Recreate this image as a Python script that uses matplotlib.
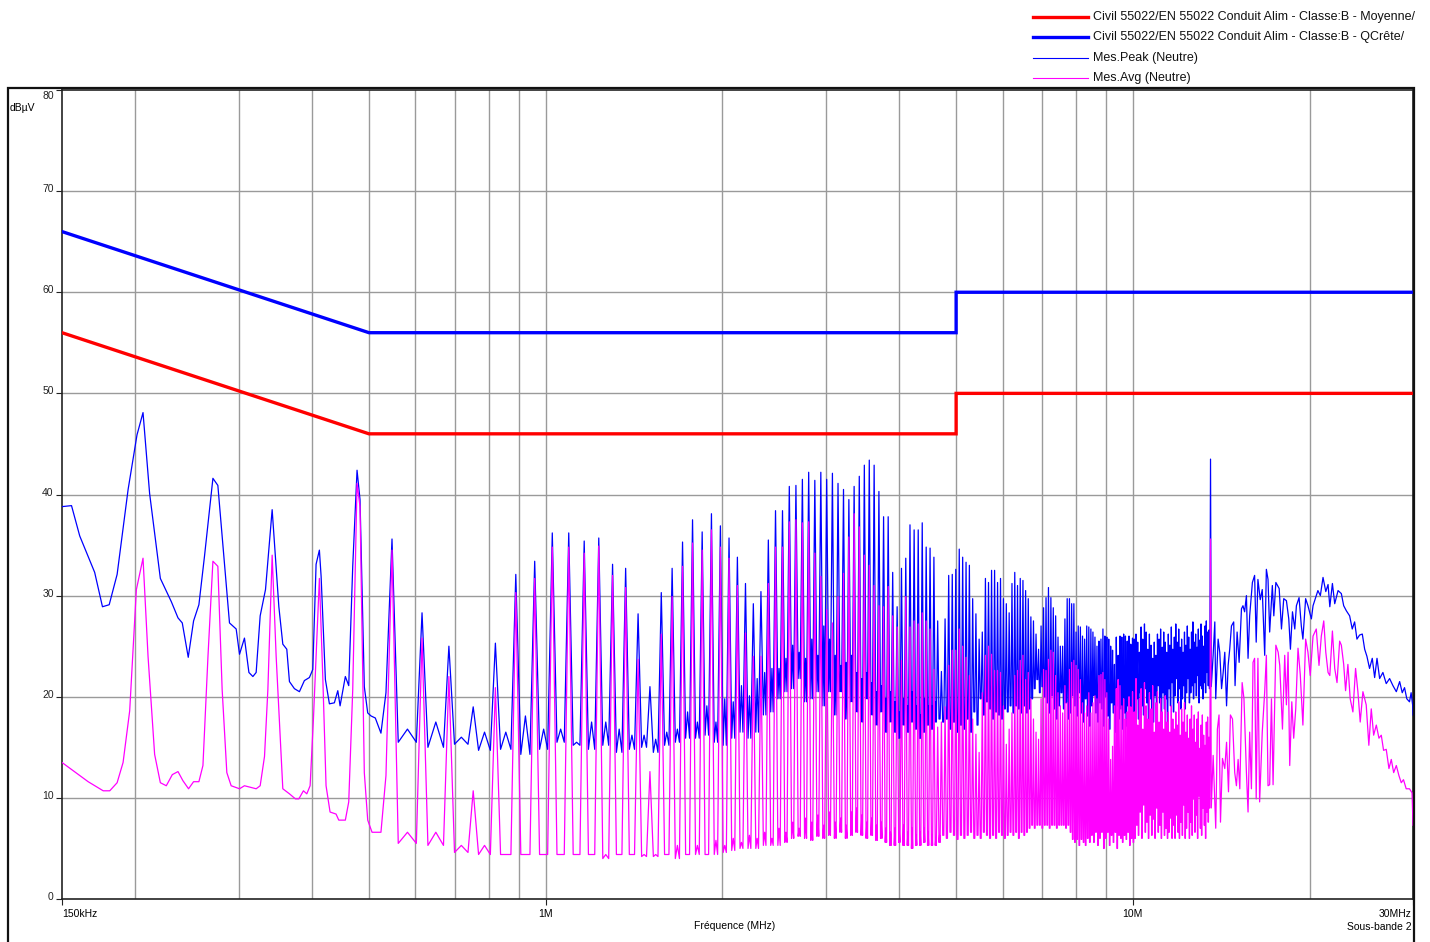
import numpy as np
import matplotlib
matplotlib.use("Agg")
import matplotlib.pyplot as plt
import matplotlib.transforms as mtransforms
from matplotlib.lines import Line2D
from matplotlib.patches import Rectangle

plt.rcParams['font.family'] = ['Liberation Sans', 'DejaVu Sans']

# --- Limit lines (EN 55022 class B, conducted) ---
lim_f = [0.15, 0.5, 5.0, 5.0, 30.0]
lim_avg = [56, 46, 46, 50, 50]
lim_qp = [66, 56, 56, 60, 60]

# --- Measured spectrum, below the first resolved harmonic (MHz, dBuV) ---
f_pk_low = [0.150, 0.1557, 0.1608, 0.1705, 0.1758, 0.1805, 0.1862, 0.1944, 0.2013, 0.2061,
            0.2115, 0.2206, 0.2303, 0.2364, 0.2404, 0.2461, 0.2513, 0.2566, 0.2623, 0.2711,
            0.2764, 0.2893, 0.2970, 0.3009, 0.3068, 0.3122, 0.3171, 0.3212, 0.3263, 0.3332,
            0.3420, 0.3511, 0.3566, 0.3622, 0.3660, 0.3732, 0.3806, 0.3881, 0.3958, 0.4011,
            0.4063, 0.4116, 0.4144, 0.4214, 0.4281, 0.4365, 0.4424, 0.4464, 0.4557, 0.4618,
            0.4691, 0.4771, 0.4827, 0.4909, 0.4975, 0.5040, 0.5125, 0.5240, 0.5344]
pk_low = [38.8, 38.9, 35.9, 32.3, 28.9, 29.1, 32.1, 40.5, 45.9, 48.1,
          40.1, 31.7, 29.4, 27.8, 27.3, 23.9, 27.5, 29.1, 33.9, 41.6,
          40.9, 27.3, 26.7, 24.2, 25.8, 22.4, 22.0, 22.4, 28.0, 30.6,
          38.5, 28.9, 25.2, 24.7, 21.5, 20.8, 20.5, 21.6, 21.9, 22.7,
          33.1, 34.5, 31.9, 21.7, 19.3, 19.4, 20.6, 19.1, 22.0, 21.1,
          32.9, 42.4, 39.5, 21.0, 18.4, 18.1, 17.9, 16.4, 20.4]

f_av_low = [0.150, 0.1662, 0.1763, 0.1809, 0.1862, 0.1906, 0.1956, 0.2008, 0.2061, 0.2102,
            0.2157, 0.2206, 0.2258, 0.2312, 0.2364, 0.2410, 0.2464, 0.2513, 0.2566, 0.2607,
            0.2659, 0.2711, 0.2764, 0.2811, 0.2863, 0.2912, 0.3009, 0.3068, 0.3212, 0.3263,
            0.3319, 0.3363, 0.3420, 0.3474, 0.3566, 0.3660, 0.3747, 0.3797, 0.3866, 0.3918,
            0.3969, 0.4021, 0.4116, 0.4171, 0.4225, 0.4292, 0.4394, 0.4441, 0.4557, 0.4618,
            0.4691, 0.4771, 0.4827, 0.4909, 0.4975, 0.5060, 0.5240, 0.5344]
av_low = [13.5, 11.6, 10.7, 10.7, 11.5, 13.5, 18.6, 30.6, 33.7, 24.0,
          14.3, 11.5, 11.2, 12.3, 12.6, 11.7, 10.9, 11.6, 11.6, 13.2,
          24.0, 33.4, 32.9, 20.7, 12.5, 11.2, 10.9, 11.2, 10.9, 11.2,
          14.1, 20.7, 34.0, 24.0, 10.9, 10.4, 9.9, 9.9, 10.7, 10.4,
          11.2, 17.8, 31.7, 22.0, 11.2, 8.6, 8.4, 7.8, 7.8, 9.6,
          20.7, 41.1, 38.8, 12.5, 7.8, 6.6, 6.6, 12.2]

# --- Harmonic lines of the ~68.4 kHz switcher, harmonic 8 up to 197 ---
F0 = 0.0684      # MHz, spacing of the harmonic comb
N_FIRST = 8

pk_top = [35.6, 28.3, 25.0, 19.0, 25.3, 32.1, 33.4, 36.2, 36.2, 35.4,
          35.7, 33.1, 32.7, 28.2, 21.0, 30.3, 32.7, 35.3, 37.5, 36.3,
          38.1, 36.9, 35.7, 33.8, 31.2, 29.2, 30.4, 35.5, 38.4, 38.4,
          40.8, 40.9, 41.5, 42.2, 41.4, 42.2, 41.5, 42.1, 41.1, 40.5,
          39.5, 40.8, 41.8, 42.9, 43.4, 42.9, 40.3, 37.8, 37.8, 32.3,
          28.9, 32.7, 33.7, 37.0, 36.5, 36.5, 37.2, 34.8, 34.7, 33.8,
          27.5,
          22.5, 27.7, 32.0, 32.1, 32.6, 34.6, 33.8, 33.3, 33.0, 29.7,
          28.2, 25.7, 26.4, 31.7, 31.3, 32.5, 32.5, 31.3, 31.7, 29.7,
          29.2, 28.3, 31.2, 32.3, 31.0, 31.7, 31.5, 30.5, 29.7, 27.9,
          27.5, 26.2, 24.7, 27.0, 28.8, 29.8, 30.8, 29.8, 28.8, 28.0,
          25.9, 25.0, 25.0, 27.7, 29.7, 29.7, 29.2, 29.2, 26.4, 27.0,
          26.9, 26.0, 25.7, 27.0, 26.9, 26.7, 26.4, 25.9, 25.0, 25.5,
          25.7, 26.7, 26.0, 25.9, 25.7, 25.0, 24.6, 23.2, 25.9, 24.1,
          26.0, 25.9, 26.2, 26.0, 25.5, 26.0, 25.2, 25.8,
          25.7, 26.2, 25.4, 24.4, 26.9, 25.7, 27.2, 26.4, 24.7, 26.2,
          25.1, 23.8, 25.4, 24.1, 26.2, 25.7, 26.7, 24.9, 26.4, 25.4,
          24.4, 26.2, 25.1, 26.9, 24.7, 25.9, 27.2, 25.4, 26.7, 24.9,
          25.7, 24.4, 26.4, 25.1, 27.0, 25.9, 24.7, 26.4, 27.4, 25.4,
          26.2, 24.9, 26.7, 25.6, 27.2, 26.0, 25.0, 27.0, 27.5, 26.4,
          26.6]
pk_bot = [15.5, 15.0, 15.3, 14.7, 14.8, 14.3, 14.8, 15.5, 15.2, 14.8,
          15.2, 14.5, 14.8, 15.0, 14.5, 15.2, 15.5, 15.9, 15.9, 16.2,
          15.5, 15.2, 15.9, 16.5, 15.9, 16.5, 18.2, 18.5, 19.8, 20.5,
          20.8, 21.8, 19.5, 19.8, 20.5, 19.1, 20.5, 18.2, 20.5, 17.8,
          19.5, 18.5, 17.5, 19.8, 18.2, 17.2, 18.5, 16.5, 17.5, 16.5,
          15.9, 17.2, 16.5, 17.5, 16.8, 15.9, 16.5, 17.2, 16.8, 17.5,
          17.8,
          17.5, 17.8, 16.8, 17.5, 16.5, 17.2, 16.8, 17.8, 16.5, 18.5,
          17.2, 19.8, 18.2, 19.5, 18.8, 17.8, 18.5, 18.2, 17.8, 18.8,
          18.5, 19.1, 18.4, 19.1, 18.8, 18.4, 19.1, 18.4, 18.8, 19.8,
          20.8, 21.7, 20.4, 21.0, 20.0, 19.4, 18.4, 20.1, 18.8, 17.8,
          19.1, 20.4, 18.8, 19.4, 17.8, 18.4, 20.1, 19.1, 18.1, 20.4,
          18.4, 17.5, 19.8, 18.1, 17.1, 19.1, 20.1, 18.4, 17.5, 19.4,
          18.8, 17.1, 20.0, 18.1, 16.8, 19.4, 18.4, 16.5, 19.1, 17.8,
          18.8, 16.8, 18.4, 17.1, 19.1, 17.5, 18.1, 17.8,
          18.5, 19.8, 17.8, 20.4, 19.1, 18.2, 20.8, 19.4, 17.5, 19.8,
          18.8, 17.5, 20.1, 18.5, 21.1, 19.4, 17.8, 20.4, 18.8, 19.8,
          17.5, 20.8, 19.1, 21.4, 18.5, 20.1, 21.8, 19.4, 20.8, 18.8,
          19.8, 21.1, 18.8, 20.4, 21.8, 19.4, 20.4, 21.1, 19.8, 21.4,
          20.1, 22.1, 19.4, 21.1, 20.8, 19.8, 21.4, 20.4, 22.4, 21.1,
          20.8]
pk_mid = [16.8, 17.5, 16.0, 16.5, 16.5, 18.1, 16.8, 16.8, 15.5, 17.5,
          17.5, 16.8, 16.2, 16.2, 15.8, 16.5, 16.8, 18.5, 17.5, 19.1,
          17.5, 19.8, 19.5, 21.1, 20.1, 21.8, 22.4, 22.8, 22.8, 23.8,
          25.1, 24.4, 23.8, 25.7, 24.1, 27.0, 25.7, 24.1, 23.1, 23.4,
          24.1, 22.4, 21.8, 22.4, 21.4, 20.5, 21.1, 19.8, 20.5, 19.5,
          18.5, 19.8, 19.1, 20.5, 19.1, 18.2, 19.8, 19.1, 19.1, 19.5,
          17.8]

av_top = [34.5, 25.8, 22.0, 10.7, 20.9, 30.3, 31.7, 34.8, 34.8, 34.2,
          34.9, 32.0, 30.8, 23.7, 12.6, 26.2, 29.9, 32.9, 35.2, 34.5,
          36.5, 34.8, 33.7, 31.0, 26.3, 24.0, 24.0, 31.2, 34.8, 34.8,
          37.3, 37.5, 37.2, 37.3, 34.2, 31.9, 28.6, 27.3, 29.9, 32.2,
          35.8, 38.1, 36.8, 34.0, 33.0, 31.0, 29.0, 28.9, 30.9, 28.0,
          26.9, 23.6, 29.9, 26.9, 27.5, 27.2, 28.3, 27.5, 26.7, 22.7,
          17.0,
          17.5, 19.0, 23.1, 24.6, 24.6, 26.7, 25.0, 23.9, 22.1, 17.8,
          16.3, 14.5, 20.4, 24.1, 25.0, 24.2, 22.6, 22.6, 22.4, 19.1,
          15.3, 16.8, 18.4, 22.1, 22.6, 23.6, 24.1, 21.7, 22.4, 19.8,
          17.8, 16.5, 15.8, 19.8, 22.7, 22.6, 23.7, 24.6, 24.4, 22.1,
          20.4, 19.1, 18.4, 21.1, 19.4, 22.7, 23.4, 23.6, 23.1, 22.7,
          21.7, 19.4, 18.4, 19.1, 20.4, 18.4, 19.4, 20.1, 19.8, 22.1,
          22.2, 22.4, 21.7, 20.4, 17.8, 13.8, 15.1, 19.1, 20.8, 21.7,
          21.1, 19.1, 19.8, 17.8, 18.5, 20.0, 19.0, 20.5,
          18.5, 21.8, 17.2, 19.8, 20.8, 16.8, 21.4, 19.1, 17.8, 20.4,
          18.8, 21.1, 16.5, 19.4, 20.5, 17.5, 19.8, 18.5, 16.8, 20.1,
          17.5, 18.5, 16.5, 19.1, 17.8, 16.8, 18.5, 17.2, 19.5, 16.2,
          18.8, 17.5, 19.4, 16.5, 18.2, 15.9, 17.8, 19.1, 16.8, 18.2,
          15.5, 17.8, 18.5, 14.9, 17.2, 18.2, 16.2, 15.2, 17.5, 18.0,
          16.0]
av_bot = [5.5, 5.3, 4.6, 4.4, 4.4, 4.4, 4.4, 4.4, 4.4, 4.4,
          4.0, 4.4, 4.4, 4.2, 4.2, 4.4, 4.0, 4.4, 4.4, 4.4,
          4.4, 4.6, 4.8, 5.0, 5.0, 5.0, 5.3, 5.3, 5.3, 5.6,
          6.0, 6.2, 6.0, 5.8, 6.2, 6.0, 6.3, 6.0, 6.6, 6.0,
          6.3, 6.6, 6.3, 6.0, 6.3, 5.8, 6.0, 5.6, 5.3, 5.3,
          5.6, 5.3, 5.3, 5.0, 5.3, 5.3, 5.6, 5.3, 5.3, 5.3,
          5.6,
          6.3, 6.0, 6.6, 6.3, 5.9, 6.3, 6.0, 6.3, 6.6, 6.0,
          6.3, 6.0, 6.6, 6.3, 6.0, 6.3, 6.0, 6.6, 6.3, 6.0,
          6.3, 6.6, 6.3, 6.6, 6.0, 6.6, 6.3, 6.6, 7.0, 7.3,
          7.0, 7.3, 7.3, 7.0, 7.3, 7.3, 7.0, 7.3, 7.3, 7.0,
          7.3, 7.3, 7.3, 7.0, 7.3, 6.6, 5.9, 5.6, 5.9, 5.3,
          5.9, 5.6, 5.3, 6.0, 5.6, 6.3, 5.6, 6.6, 5.3, 6.0,
          6.6, 5.0, 6.0, 6.6, 5.3, 6.3, 5.6, 6.6, 5.0, 6.3,
          6.0, 5.6, 6.3, 5.9, 6.6, 5.3, 6.0, 5.6,
          6.0, 7.3, 6.3, 8.6, 6.0, 9.3, 6.6, 7.6, 6.0, 8.3,
          6.3, 7.9, 6.0, 9.0, 6.6, 7.3, 6.0, 8.6, 6.3, 7.0,
          6.0, 6.6, 8.0, 6.0, 7.3, 6.0, 8.3, 6.6, 6.0, 7.6,
          6.3, 9.3, 6.0, 7.0, 8.6, 6.0, 7.6, 6.3, 9.9, 6.6,
          8.3, 6.0, 10.2, 7.0, 6.3, 9.0, 7.3, 6.0, 8.6, 7.6,
          9.0]
av_mid = [6.6, 6.6, 5.3, 5.3, 4.4, 4.4, 4.4, 4.4, 4.4, 4.4,
          4.4, 4.4, 4.4, 4.4, 4.4, 4.4, 5.3, 4.4, 5.3, 4.4,
          5.8, 5.3, 6.0, 5.6, 6.3, 6.0, 6.6, 6.0, 7.0, 6.6,
          7.6, 7.0, 8.0, 7.6, 8.3, 7.3, 8.6, 7.6, 8.0, 7.3,
          8.6, 9.0, 8.3, 7.6, 8.0, 7.3, 7.6, 7.0, 6.6, 7.0,
          6.6, 7.3, 6.6, 7.0, 6.3, 6.6, 7.0, 6.6, 6.3, 6.0,
          6.3]

# --- Above the harmonic comb: 13.56 MHz line and the 14-30 MHz hump ---
f_pk_hi = [13.56, 13.60, 13.70, 13.79, 13.84, 13.97, 14.06, 14.16, 14.25, 14.34,
           14.44, 14.53, 14.62, 14.72, 14.85, 14.93, 15.05, 15.17, 15.31, 15.40,
           15.50, 15.61, 15.71, 15.81, 15.98, 16.12, 16.22, 16.33, 16.48, 16.61,
           16.77, 16.88, 16.99, 17.10, 17.28, 17.38, 17.52, 17.75, 17.91, 18.07,
           18.26, 18.43, 18.55, 18.70, 18.87, 18.99, 19.19, 19.36, 19.48, 19.69,
           19.87, 20.14, 20.27, 20.66, 20.86, 21.08, 21.31, 21.50, 21.65, 21.87,
           22.07, 22.36, 22.65, 22.86, 23.10, 23.40, 23.64, 23.86, 24.08, 24.33,
           24.59, 24.82, 25.04, 25.30, 25.57, 25.81, 26.05, 26.32, 26.66, 27.01,
           27.37, 27.73, 28.10, 28.47, 28.76, 29.02, 29.28, 29.59, 29.78, 29.97,
           30.0]
pk_hi = [43.5, 21.0, 24.1, 27.4, 19.8, 25.7, 24.4, 20.8, 22.4, 24.4,
         19.1, 23.1, 24.7, 27.0, 27.4, 21.1, 26.4, 23.4, 28.7, 29.0,
         28.4, 30.0, 23.8, 28.0, 31.3, 32.0, 25.4, 31.6, 29.6, 30.6,
         24.1, 32.6, 31.6, 26.4, 31.0, 28.0, 31.3, 30.7, 26.7, 29.7,
         29.5, 27.7, 24.7, 28.4, 26.7, 29.0, 29.8, 27.0, 25.7, 29.7,
         29.0, 27.7, 29.0, 30.5, 30.0, 31.8, 30.4, 31.1, 28.9, 31.2,
         29.2, 30.5, 30.2, 29.0, 28.5, 28.0, 26.7, 27.4, 25.7, 26.1,
         26.2, 24.7, 24.0, 22.8, 23.8, 21.9, 23.8, 21.8, 22.4, 21.3,
         21.8, 21.1, 20.5, 21.5, 20.4, 20.9, 19.8, 19.5, 20.4, 19.1,
         18.2]

f_av_hi = [13.56, 13.60, 13.70, 13.84, 13.93, 14.02, 14.10, 14.21, 14.34, 14.44,
           14.55, 14.66, 14.78, 14.91, 15.01, 15.11, 15.21, 15.35, 15.46, 15.61,
           15.71, 15.81, 15.92, 16.02, 16.12, 16.22, 16.33, 16.44, 16.61, 16.77,
           16.88, 16.99, 17.10, 17.22, 17.33, 17.52, 17.68, 17.79, 17.98, 18.14,
           18.26, 18.38, 18.50, 18.65, 18.79, 18.94, 19.11, 19.28, 19.48, 19.69,
           19.87, 20.05, 20.27, 20.53, 20.75, 20.94, 21.14, 21.31, 21.50, 21.65,
           21.87, 22.07, 22.27, 22.50, 22.65, 22.86, 23.03, 23.24, 23.45, 23.70,
           23.95, 24.17, 24.39, 24.65, 24.97, 25.23, 25.47, 25.71, 25.98, 26.25,
           26.49, 26.73, 27.01, 27.30, 27.55, 27.81, 28.10, 28.39, 28.65, 28.90,
           29.21, 29.59, 29.89, 30.0]
av_hi = [35.6, 9.0, 14.2, 7.0, 16.8, 18.2, 7.6, 13.9, 12.9, 15.5,
         10.6, 18.2, 17.8, 12.5, 11.2, 13.8, 10.9, 21.4, 19.8, 12.5,
         8.6, 16.5, 10.9, 23.4, 23.8, 9.9, 23.8, 9.6, 16.5, 20.5,
         24.1, 11.2, 11.3, 19.8, 11.3, 25.1, 24.4, 23.1, 16.8, 24.1,
         19.2, 24.4, 13.2, 19.5, 15.9, 18.8, 24.8, 22.2, 17.2, 25.7,
         24.4, 22.1, 26.0, 26.7, 23.1, 26.0, 27.5, 24.4, 22.4, 22.1,
         26.5, 22.8, 21.4, 25.5, 25.1, 23.2, 20.6, 23.2, 19.8, 18.5,
         22.8, 20.5, 17.5, 20.5, 19.2, 15.2, 18.8, 16.2, 17.2, 15.9,
         16.2, 14.7, 14.8, 12.9, 13.8, 12.5, 13.2, 12.2, 11.5, 11.8,
         10.9, 10.9, 10.5, 7.3]

grid_f = [0.2, 0.3, 0.4, 0.5, 0.6, 0.7, 0.8, 0.9, 1, 2, 3, 4, 5, 6, 7, 8, 9, 10, 20]

# half width of one harmonic spike at its base, MHz (it widens with frequency)
HW_F = [0.5, 1.0, 3.0, 30.0]
HW = [0.013, 0.019, 0.024, 0.024]


def comb(top, bot, mid):
    # each harmonic: narrow spike, then the floor up to the next one
    f, v = [], []
    for i in range(len(top)):
        fn = (N_FIRST + i) * F0
        hw = float(np.interp(fn, HW_F, HW))
        f += [fn, fn + hw]
        v += [top[i], bot[i]]
        if i < len(mid):
            f.append(fn + F0 / 2)
            v.append(mid[i])
        f.append(fn + F0 - hw)
        v.append(bot[i])
    return f, v


fc, vc = comb(pk_top, pk_bot, pk_mid)
f_pk = f_pk_low + fc + f_pk_hi
v_pk = pk_low + vc + pk_hi
fc, vc = comb(av_top, av_bot, av_mid)
f_av = f_av_low + fc + f_av_hi
v_av = av_low + vc + av_hi

W, H = 1430, 942
fig = plt.figure(figsize=(W / 100, H / 100), dpi=100)
ax = fig.add_axes([62 / W, 1 - 899 / H, (1413 - 62) / W, (899 - 90) / H])
ax.set_xscale('log')
ax.set_xlim(0.15, 30)
ax.set_ylim(0, 80)

for g in grid_f:
    ax.axvline(g, color='#9a9a9a', lw=1.0, zorder=0)
for g in range(10, 80, 10):
    ax.axhline(g, color='#9a9a9a', lw=1.0, zorder=0)

ax.plot(lim_f, lim_avg, color='#ff0000', lw=2.4, zorder=3, solid_joinstyle='miter')
ax.plot(lim_f, lim_qp, color='#0000ff', lw=2.4, zorder=3, solid_joinstyle='miter')
ax.plot(f_pk, v_pk, color='#0000ff', lw=0.9, zorder=4)
ax.plot(f_av, v_av, color='#ff00ff', lw=0.9, zorder=5)

# ticks
ax.set_xticks([0.15, 1, 10, 30])
ax.set_xticks([], minor=True)
ax.set_xticklabels([])
ax.set_yticks(range(0, 90, 10))
ax.set_yticklabels([str(v) for v in range(0, 90, 10)], fontsize=7.5)
ax.tick_params(axis='both', direction='out', length=4, width=0.8, pad=2, colors='#222222')
for lbl in ax.get_yticklabels():
    dy = -5 if lbl.get_text() == '80' else 3
    lbl.set_transform(lbl.get_transform()
                      + mtransforms.ScaledTranslation(0, dy / 100, fig.dpi_scale_trans))
for s in ax.spines.values():
    s.set_color('#222222')
    s.set_linewidth(1.2)

tr = mtransforms.blended_transform_factory(ax.transData, ax.transAxes)
ax.text(0.15, -0.018, '150kHz', transform=tr, ha='left', va='center', fontsize=7.5)
ax.text(1, -0.018, '1M', transform=tr, ha='center', va='center', fontsize=7.5)
ax.text(10, -0.018, '10M', transform=tr, ha='center', va='center', fontsize=7.5)
ax.text(29.8, -0.018, '30MHz', transform=tr, ha='right', va='center', fontsize=7.5)
ax.text(29.8, -0.034, 'Sous-bande 2', transform=tr, ha='right', va='center', fontsize=7.5)
fig.text(735 / W, 1 - 926 / H, 'Fréquence (MHz)', ha='center', va='center', fontsize=7.5)
fig.text(10 / W, 1 - 108 / H, 'dBµV', ha='left', va='center', fontsize=7.5)

# outer frame
fig.add_artist(Rectangle((8 / W, -0.01), (1414 - 8) / W, 0.01 + 1 - 88 / H,
                         transform=fig.transFigure, fill=False, lw=1.6, ec='#111111'))

# legend, drawn at the top right
legend_items = [
    ('Civil 55022/EN 55022 Conduit Alim - Classe:B - Moyenne/', '#ff0000', 2.4),
    ('Civil 55022/EN 55022 Conduit Alim - Classe:B - QCrête/', '#0000ff', 2.4),
    ('Mes.Peak (Neutre)', '#0000ff', 0.8),
    ('Mes.Avg (Neutre)', '#ff00ff', 0.8),
]
for i, (label, color, lw) in enumerate(legend_items):
    y = 1 - (17 + 20.3 * i) / H
    fig.add_artist(Line2D([1033 / W, 1088 / W], [y, y], color=color, lw=lw,
                          transform=fig.transFigure))
    fig.text(1093 / W, y, label, ha='left', va='center', fontsize=9.0, color='#111111')

fig.savefig('out.png', dpi=100)
